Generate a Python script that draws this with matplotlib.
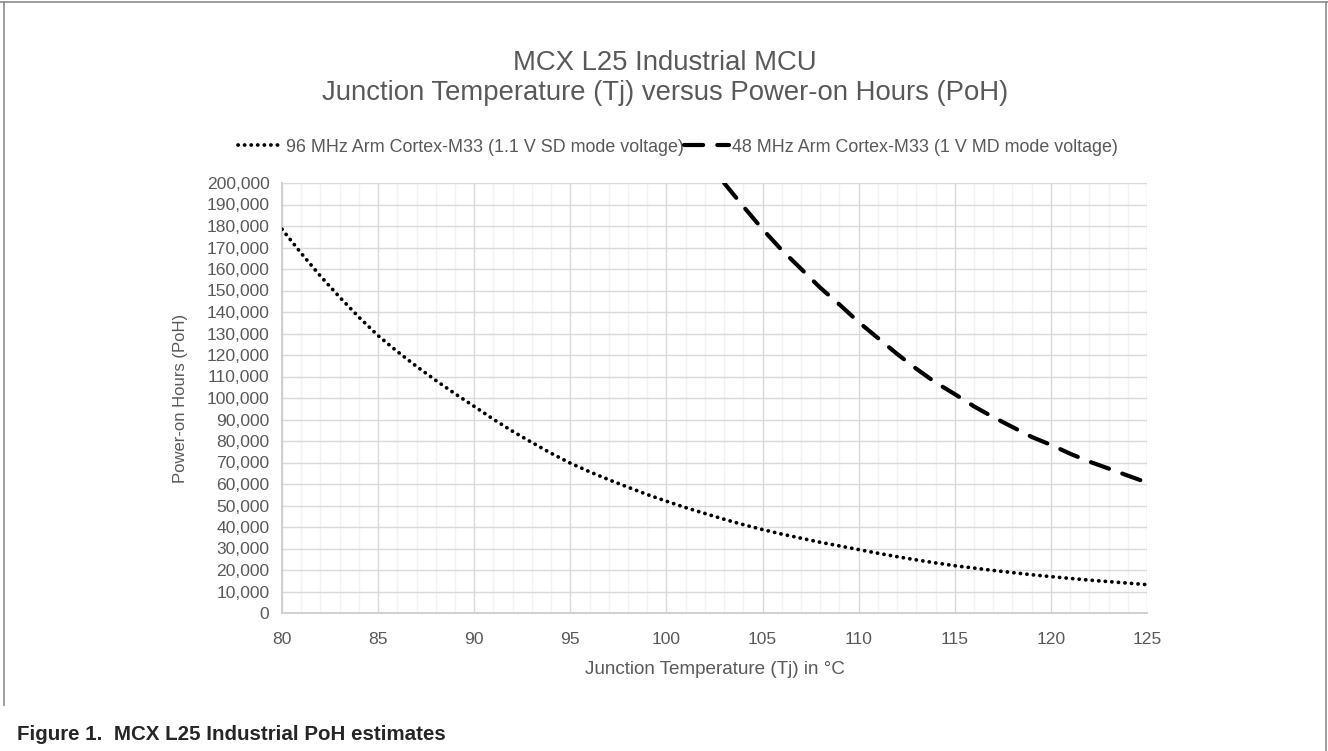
import matplotlib
matplotlib.use("Agg")
import matplotlib.pyplot as plt
from matplotlib.lines import Line2D
from matplotlib.ticker import MultipleLocator, FuncFormatter

plt.rcParams["font.family"] = ["Liberation Sans", "DejaVu Sans"]

# 96 MHz curve at each degree
temp_96 = list(range(80, 126))
poh_96 = [178500, 167300, 156700, 146900, 137600, 129000, 121600, 114700, 108200, 102000,
          96100, 90100, 84500, 79300, 74300, 69700, 65700, 62000, 58500, 55100,
          52000, 49000, 46300, 43600, 41100, 38800, 36700, 34800, 32900, 31200,
          29500, 27800, 26200, 24700, 23300, 22000, 20900, 19800, 18800, 17800,
          16900, 16100, 15300, 14600, 13900, 13200]

# 48 MHz curve, visible from ~103 °C (above the axis max before that)
temp_48 = list(range(103, 126))
poh_48 = [200000, 189100, 178500, 168800, 160100, 151300, 143500, 135300, 127900, 120500,
          113600, 107200, 101800, 96100, 91100, 86500, 81900, 78200, 74100, 70400,
          67200, 63900, 60700]

label_96 = "96 MHz Arm Cortex-M33 (1.1 V SD mode voltage)"
label_48 = "48 MHz Arm Cortex-M33 (1 V MD mode voltage)"

txt = "#595959"
grid_major = "#d9d9d9"
grid_minor = "#f2f2f2"

fig = plt.figure(figsize=(13.28, 7.51), dpi=100)
ax = fig.add_axes([282 / 1328, 1 - 613 / 751, 865 / 1328, 430 / 751])

ax.plot(temp_96, poh_96, color="black", lw=2.7, linestyle=(0, (0.05, 1.7)),
        dash_capstyle="round", label=label_96, zorder=3)
ax.plot(temp_48, poh_48, color="black", lw=3.0, linestyle=(0, (4.6, 3.4)),
        dash_capstyle="round", label=label_48, zorder=3)

ax.set_xlim(80, 125)
ax.set_ylim(0, 200000)
ax.xaxis.set_major_locator(MultipleLocator(5))
ax.xaxis.set_minor_locator(MultipleLocator(1))
ax.yaxis.set_major_locator(MultipleLocator(10000))
ax.yaxis.set_major_formatter(FuncFormatter(lambda v, _: f"{v:,.0f}"))

ax.grid(which="major", axis="x", color=grid_major, lw=1.0, zorder=0)
ax.grid(which="minor", axis="x", color=grid_minor, lw=1.0, zorder=0)
ax.grid(which="major", axis="y", color=grid_major, lw=1.0, zorder=0)
ax.set_axisbelow(True)

for s in ["top", "right"]:
    ax.spines[s].set_visible(False)
for s in ["left", "bottom"]:
    ax.spines[s].set_color("#d0d0d0")
    ax.spines[s].set_linewidth(1.4)

ax.tick_params(which="both", length=0, labelsize=12.6, labelcolor=txt)
ax.tick_params(axis="x", pad=14)
ax.tick_params(axis="y", pad=9)

ax.set_xlabel("Junction Temperature (Tj) in °C", fontsize=13.6, color=txt, labelpad=10)
ax.set_ylabel("Power-on Hours (PoH)", fontsize=12, color=txt, labelpad=13)

fig.text(665 / 1328, 1 - 78 / 751,
         "MCX L25 Industrial MCU\nJunction Temperature (Tj) versus Power-on Hours (PoH)",
         ha="center", va="center", fontsize=19.8, color=txt, linespacing=1.2)

fig.legend(loc="center", bbox_to_anchor=(678 / 1328, 1 - 147 / 751), ncol=2,
           frameon=False, fontsize=12.9, labelcolor=txt, handlelength=2.5,
           handletextpad=0.2, columnspacing=0.0)

fig.text(17 / 1328, 1 - 735 / 751, "Figure 1.  MCX L25 Industrial PoH estimates",
         ha="left", va="center", fontsize=14.8, fontweight="bold", color="#262626")

# page border around the figure
border = "#8c8c8c"
fig.add_artist(Line2D([0, 1], [1 - 2 / 751, 1 - 2 / 751], color=border, lw=1.2))
fig.add_artist(Line2D([4 / 1328, 4 / 1328], [1 - 2 / 751, 1 - 705 / 751], color=border, lw=1.2))
fig.add_artist(Line2D([1326 / 1328, 1326 / 1328], [1 - 2 / 751, 0], color=border, lw=1.2))

fig.savefig("out.png", dpi=100)
